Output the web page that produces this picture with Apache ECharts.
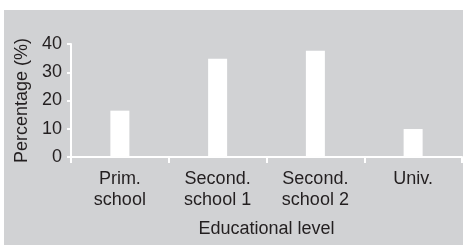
<!DOCTYPE html>
<html><head><meta charset="utf-8">
<script src="https://cdn.jsdelivr.net/npm/echarts@6/dist/echarts.min.js"></script>
<style>html,body{margin:0;padding:0;background:#fff}#c{width:463px;height:245px}</style>
</head><body><div id="c"></div>
<script>
const categories = ['Prim.\nschool', 'Second.\nschool 1', 'Second.\nschool 2', 'Univ.'];
const values = [16.4, 34.8, 37.6, 9.9];
const yTicks = [0, 10, 20, 30, 40];

const chart = echarts.init(document.getElementById('c'), null, {renderer: 'canvas'});
const txt = '#231f20';
const font = '"Liberation Sans", Arial, sans-serif';
chart.setOption({
  animation: false,
  backgroundColor: '#ffffff',
  graphic: [{type: 'rect', z: -10, silent: true, shape: {x: 4, y: 10, width: 459, height: 235}, style: {fill: '#d1d2d4'}}],
  grid: {left: 71, right: 1, top: 44, bottom: 88, containLabel: false},
  xAxis: {
    type: 'category', data: categories,
    name: 'Educational level', nameLocation: 'middle', nameGap: 63,
    nameTextStyle: {color: txt, fontSize: 18, fontFamily: font},
    axisLine: {lineStyle: {color: '#ffffff', width: 2}},
    axisTick: {show: true, length: 6, lineStyle: {color: '#ffffff', width: 2}},
    axisLabel: {color: txt, fontSize: 18, fontFamily: font, lineHeight: 21, margin: 12}
  },
  yAxis: {
    type: 'value', min: yTicks[0], max: yTicks[yTicks.length - 1], interval: 10,
    name: 'Percentage (%)', nameLocation: 'middle', nameGap: 40,
    nameTextStyle: {color: txt, fontSize: 18, fontFamily: font},
    axisLine: {show: true, lineStyle: {color: '#ffffff', width: 2}},
    axisTick: {show: true, length: 4, lineStyle: {color: '#ffffff', width: 2}},
    splitLine: {show: false},
    axisLabel: {color: txt, fontSize: 18, fontFamily: font, margin: 9}
  },
  series: [{type: 'bar', data: values, barWidth: 19, itemStyle: {color: '#ffffff'}}]
});
</script></body></html>
